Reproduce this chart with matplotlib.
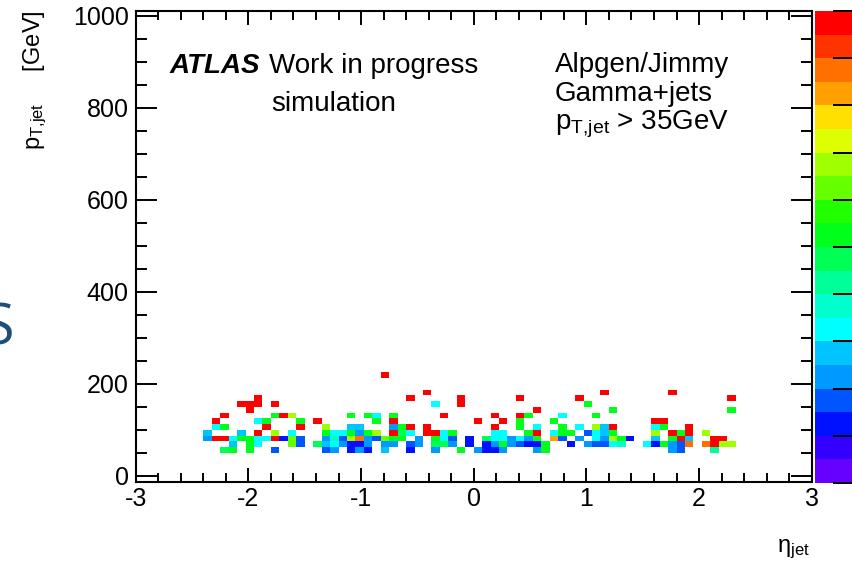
import numpy as np
import matplotlib
matplotlib.use("Agg")
import matplotlib.pyplot as plt
from matplotlib.colors import ListedColormap, BoundaryNorm
from matplotlib.ticker import MultipleLocator

plt.rcParams['font.family'] = ['Liberation Sans', 'DejaVu Sans']
plt.rcParams['mathtext.fontset'] = 'custom'
plt.rcParams['mathtext.rm'] = 'Liberation Sans'
plt.rcParams['mathtext.it'] = 'Liberation Sans:italic'
plt.rcParams['mathtext.bf'] = 'Liberation Sans:bold'
plt.rcParams['axes.unicode_minus'] = False

# ---------------- data: 2D histogram (eta bin index, pT bin index, colour level) ----
n_eta_bins = 80          # eta in [-3, 3]
n_pt_bins = 80           # pT in [0, 1000] GeV
eta_range = (-3.0, 3.0)
pt_range = (0.0, 1000.0)

eta_r4 = [10, 11, 13, 16, 22, 23, 25, 26, 27, 29, 32, 35, 38, 40, 41, 42, 43, 47, 48, 63, 64, 68]
z_r4 = [10, 11, 11, 4, 4, 5, 3, 5, 3, 6, 3, 5, 11, 5, 3, 3, 5, 5, 11, 5, 4, 9]

eta_r5 = [11, 13, 14, 18, 19, 21, 22, 23, 24, 25, 26, 27, 29, 30, 32, 33, 35, 36, 37, 39, 41, 42,
          43, 44, 45, 46, 47, 48, 51, 53, 54, 55, 56, 57, 60, 61, 62, 63, 64, 65, 67, 68, 69, 70]
z_r5 = [6, 11, 7, 13, 4, 10, 6, 7, 5, 3, 3, 5, 5, 5, 4, 5, 10, 10, 5, 3, 3, 5,
        11, 5, 4, 3, 3, 11, 3, 5, 4, 4, 7, 8, 7, 3, 11, 5, 4, 18, 18, 20, 14, 14]

eta_r6 = [8, 9, 10, 11, 12, 13, 14, 15, 16, 17, 18, 19, 22, 23, 24, 25, 26, 27, 28, 29, 30, 31, 33, 35,
          36, 37, 39, 41, 42, 43, 44, 45, 46, 47, 49, 50, 52, 54, 55, 56, 57, 58, 61, 63, 64, 65, 68, 69]
z_r6 = [5, 20, 20, 7, 11, 11, 7, 7, 20, 3, 13, 4, 5, 8, 4, 14, 18, 5, 4, 13, 11, 11, 5, 11,
        7, 4, 3, 10, 7, 7, 5, 7, 5, 11, 17, 4, 5, 7, 5, 14, 11, 3, 6, 11, 20, 6, 20, 20]

eta_r7 = [8, 12, 14, 16, 18, 22, 23, 24, 25, 26, 27, 28, 30, 31, 32, 34, 35, 36,
          37, 42, 43, 46, 47, 49, 50, 51, 53, 54, 55, 56, 61, 63, 64, 65, 67]
z_r7 = [6, 6, 20, 14, 7, 11, 7, 7, 11, 5, 11, 14, 20, 10, 7, 20, 20, 7,
        11, 7, 7, 11, 20, 7, 11, 11, 4, 7, 6, 11, 14, 20, 11, 20, 14]

eta_r8 = [9, 10, 15, 19, 22, 25, 26, 30, 31, 32, 34, 42, 45, 47, 50, 52, 54, 55, 56, 61, 62, 65]
z_r8 = [7, 11, 20, 20, 14, 6, 6, 5, 11, 20, 20, 20, 11, 7, 11, 7, 14, 6, 20, 7, 11, 20]

eta_r9 = [9, 14, 15, 19, 21, 28, 30, 40, 43, 45, 49, 61, 62]
z_r9 = [20, 7, 11, 11, 20, 11, 20, 20, 20, 11, 11, 20, 20]

eta_r10 = [10, 16, 17, 18, 25, 27, 28, 30, 36, 42, 45, 46, 50, 54]
z_r10 = [20, 11, 20, 14, 11, 11, 7, 11, 20, 20, 20, 11, 7, 11]

eta_r11 = [13, 47, 56, 70]
z_r11 = [20, 20, 11, 11]

eta_r12 = [12, 13, 14, 16, 35, 38, 53]
z_r12 = [20, 20, 20, 20, 7, 20, 11]

eta_r13 = [14, 32, 38, 45, 52, 70]
z_r13 = [20, 20, 20, 20, 20, 20]

eta_r14 = [34, 55, 63]
z_r14 = [20, 20, 20]

eta_r17 = [29]
z_r17 = [20]

pt_rows = [4, 5, 6, 7, 8, 9, 10, 11, 12, 13, 14, 17]
eta_rows = [eta_r4, eta_r5, eta_r6, eta_r7, eta_r8, eta_r9, eta_r10,
            eta_r11, eta_r12, eta_r13, eta_r14, eta_r17]
z_rows = [z_r4, z_r5, z_r6, z_r7, z_r8, z_r9, z_r10,
          z_r11, z_r12, z_r13, z_r14, z_r17]

# ROOT-like 20-level rainbow palette (bottom -> top)
palette = ['#6600ff', '#3300ff', '#0011ff', '#0055ff', '#0099ff', '#00c4ff', '#00ffff',
           '#00ffcc', '#00ff99', '#00ff55', '#00ff1a', '#22ff00', '#66ff00', '#a0ff00',
           '#ddff00', '#ffe000', '#ffa000', '#ff7000', '#ff3300', '#ff0000']

# ---------------- build histogram ------------------------------------------------
eta_edges = np.linspace(eta_range[0], eta_range[1], n_eta_bins + 1)
pt_edges = np.linspace(pt_range[0], pt_range[1], n_pt_bins + 1)
hist = np.full((n_pt_bins, n_eta_bins), np.nan)
for iy, ex, zz in zip(pt_rows, eta_rows, z_rows):
    for ix, zv in zip(ex, zz):
        hist[iy, ix] = zv

cmap = ListedColormap(palette)
norm = BoundaryNorm(np.arange(0.5, 21.0, 1.0), cmap.N)

W, H = 852, 567
fig = plt.figure(figsize=(W / 100, H / 100), dpi=100)


def fx(px):
    return px / W


def fy(py):
    return 1 - py / H


ax = fig.add_axes([fx(135.7), fy(481.7), (811.7 - 135.7) / W, (481.7 - 11) / H])
mesh = ax.pcolormesh(eta_edges, pt_edges, np.ma.masked_invalid(hist), cmap=cmap, norm=norm)
ax.set_xlim(-3, 3)
ax.set_ylim(-12.4, 1009.8)

ax.xaxis.set_major_locator(MultipleLocator(1))
ax.xaxis.set_minor_locator(MultipleLocator(0.2))
ax.yaxis.set_major_locator(MultipleLocator(200))
ax.yaxis.set_minor_locator(MultipleLocator(50))
ax.tick_params(which='both', direction='in', top=True, right=True, width=1.4, color='black')
ax.tick_params(axis='x', which='major', length=10, labelsize=18, pad=4)
ax.tick_params(axis='x', which='minor', length=6.5)
ax.tick_params(axis='y', which='major', length=15, labelsize=18, pad=5)
ax.tick_params(axis='y', which='minor', length=8)
for s in ax.spines.values():
    s.set_linewidth(1.5)

# colour bar (partly outside the picture, as in the reference)
cax = fig.add_axes([fx(815), fy(483), 43 / W, (483 - 11) / H])
cb = fig.colorbar(mesh, cax=cax, ticks=np.arange(0.5, 21.0, 2.0))
cb.outline.set_visible(False)
cax.tick_params(direction='in', length=18, width=1.4, right=True, labelright=False, color='black')

# ---------------- texts ------------------------------------------------------------
fs = 20
fig.text(fx(170), fy(73), 'ATLAS', fontsize=fs, fontweight='bold', fontstyle='italic', va='baseline')
fig.text(fx(269), fy(73), 'Work in progress', fontsize=fs, va='baseline')
fig.text(fx(271), fy(111), 'simulation', fontsize=fs, va='baseline')
fig.text(fx(555), fy(72), 'Alpgen/Jimmy', fontsize=fs, va='baseline')
fig.text(fx(555), fy(101), 'Gamma+jets', fontsize=fs, va='baseline')
fig.text(fx(555), fy(130), r'p$_{\mathrm{T{,}jet}}$ > 35GeV', fontsize=fs, va='baseline')

fig.text(fx(35), fy(10), r'p$_{\mathrm{T{,}jet}}$     [GeV]', fontsize=17, rotation=90,
         ha='center', va='top')
fig.text(fx(810), fy(552), r'η$_{\mathrm{jet}}$', fontsize=17, ha='right', va='baseline')

fig.text(fx(14), fy(330), 'S', fontsize=40, color='#1f4e79', ha='right', va='center',
         family=['Open Sans', 'DejaVu Sans'])

fig.savefig('out.png', dpi=100)
